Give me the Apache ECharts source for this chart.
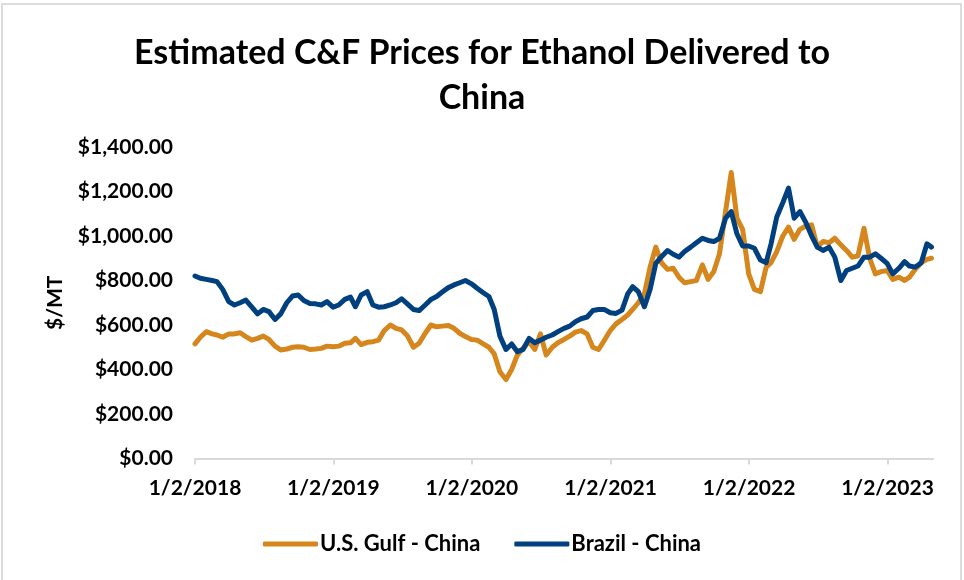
<!DOCTYPE html>
<html>
<head>
<meta charset="utf-8">
<script src="https://cdn.jsdelivr.net/npm/echarts@6/dist/echarts.min.js"></script>
<style>
  html, body { margin: 0; padding: 0; background: #ffffff; }
  #wrap { position: relative; width: 964px; height: 580px; overflow: hidden; }
  #frame { position: absolute; left: 1px; top: 3px; width: 961px; height: 640px; border: 2px solid #dcdcdc; box-sizing: border-box; }
  #chart { position: absolute; left: 0; top: 0; width: 964px; height: 580px; }
</style>
</head>
<body>
<div id="wrap">
  <div id="frame"></div>
  <div id="chart"></div>
</div>
<script>
const titleText = 'Estimated C&F Prices for Ethanol Delivered to\nChina';
const yAxisName = '$/MT';
const seriesNames = ['U.S. Gulf - China', 'Brazil - China'];

const dates = [
  '2018-01-02','2018-01-16','2018-02-01','2018-02-16','2018-03-01','2018-03-16','2018-04-01','2018-04-16','2018-05-01','2018-05-16','2018-06-01','2018-06-16',
  '2018-07-01','2018-07-16','2018-08-01','2018-08-16','2018-09-01','2018-09-16','2018-10-01','2018-10-16','2018-11-01','2018-11-16','2018-12-01','2018-12-16',
  '2019-01-01','2019-01-16','2019-02-01','2019-02-16','2019-03-01','2019-03-16','2019-04-01','2019-04-16','2019-05-01','2019-05-16','2019-06-01','2019-06-16',
  '2019-07-01','2019-07-16','2019-08-01','2019-08-16','2019-09-01','2019-09-16','2019-10-01','2019-10-16','2019-11-01','2019-11-16','2019-12-01','2019-12-16',
  '2020-01-01','2020-01-16','2020-02-01','2020-02-16','2020-03-01','2020-03-16','2020-04-01','2020-04-16','2020-05-01','2020-05-16','2020-06-01','2020-06-16',
  '2020-07-01','2020-07-16','2020-08-01','2020-08-16','2020-09-01','2020-09-16','2020-10-01','2020-10-16','2020-11-01','2020-11-16','2020-12-01','2020-12-16',
  '2021-01-01','2021-01-16','2021-02-01','2021-02-16','2021-03-01','2021-03-16','2021-04-01','2021-04-16','2021-05-01','2021-05-16','2021-06-01','2021-06-16',
  '2021-07-01','2021-07-16','2021-08-01','2021-08-16','2021-09-01','2021-09-16','2021-10-01','2021-10-16','2021-11-01','2021-11-16','2021-12-01','2021-12-16',
  '2022-01-01','2022-01-16','2022-02-01','2022-02-16','2022-03-01','2022-03-16','2022-04-01','2022-04-16','2022-05-01','2022-05-16','2022-06-01','2022-06-16',
  '2022-07-01','2022-07-16','2022-08-01','2022-08-16','2022-09-01','2022-09-16','2022-10-01','2022-10-16','2022-11-01','2022-11-16','2022-12-01','2022-12-16',
  '2023-01-01','2023-01-16','2023-02-01','2023-02-16','2023-03-01','2023-03-16','2023-04-01','2023-04-16','2023-04-28'
];

const usGulf = [
  515, 545, 570, 560, 555, 545, 560, 560, 565, 548, 532, 540,
  550, 535, 505, 488, 492, 500, 502, 500, 490, 492, 495, 505,
  502, 505, 518, 520, 540, 512, 522, 525, 532, 575, 600, 585,
  578, 552, 500, 518, 563, 600, 592, 595, 598, 585, 563, 548,
  535, 532, 515, 500, 470, 390, 355, 400, 465, 495, 525, 490,
  560, 465, 500, 520, 535, 550, 568, 575, 560, 500, 490, 530,
  575, 605, 625, 645, 670, 700, 740, 860, 950, 880, 850, 855,
  815, 790, 795, 800, 870, 805, 840, 920, 1110, 1285, 1080, 1030,
  830, 760, 750, 860, 880, 930, 1000, 1040, 985, 1030, 1045, 1050,
  950, 975, 970, 990, 960, 935, 905, 910, 1035, 900, 830, 840,
  845, 805, 815, 800, 815, 850, 880, 895, 900
];

const brazil = [
  820, 810, 805, 800, 795, 760, 705, 690, 700, 712, 680, 650,
  670, 660, 625, 650, 700, 730, 735, 710, 697, 695, 690, 705,
  680, 690, 715, 725, 682, 735, 750, 690, 680, 682, 690, 700,
  718, 695, 670, 665, 690, 715, 728, 748, 768, 780, 790, 800,
  785, 765, 745, 728, 670, 550, 490, 515, 480, 490, 540, 520,
  532, 545, 555, 570, 585, 595, 615, 628, 636, 665, 670, 670,
  655, 652, 667, 740, 772, 750, 682, 760, 877, 907, 935, 918,
  905, 930, 950, 970, 990, 980, 975, 990, 1080, 1110, 1010, 955,
  955, 945, 892, 880, 965, 1085, 1150, 1215, 1080, 1110, 1060, 1000,
  950, 935, 950, 905, 800, 845, 855, 865, 905, 905, 920, 900,
  877, 830, 855, 885, 865, 860, 880, 965, 950
];

const xTickDates = ['2018-01-02','2019-01-02','2020-01-02','2021-01-02','2022-01-02','2023-01-02'];
const xTickLabels = ['1/2/2018','1/2/2019','1/2/2020','1/2/2021','1/2/2022','1/2/2023'];
const xStart = '2018-01-02';
const xEnd = '2023-05-02';
const yTicks = [0, 200, 400, 600, 800, 1000, 1200, 1400];

const ts = s => Date.parse(s + 'T00:00:00Z');
const xTickTs = xTickDates.map(ts);
const pair = arr => dates.map((d, i) => [ts(d), arr[i]]);

const FONT = 'Lato, "Open Sans", "DejaVu Sans", sans-serif';
const chart = echarts.init(document.getElementById('chart'), null, { renderer: 'canvas' });

chart.setOption({
  animation: false,
  backgroundColor: 'transparent',
  title: {
    text: titleText,
    left: 'center',
    top: 26,
    textStyle: { fontFamily: FONT, fontWeight: 'bold', fontSize: 34, lineHeight: 45, color: '#000000' }
  },
  grid: { left: 195, right: 31, top: 147, bottom: 121.5, containLabel: false },
  legend: {
    data: seriesNames,
    left: 'center',
    top: 528,
    icon: 'roundRect',
    itemWidth: 55,
    itemHeight: 5,
    itemGap: 34,
    textStyle: { fontFamily: FONT, fontWeight: 'bold', fontSize: 22, color: '#000000', padding: [0, 0, 0, -3] }
  },
  xAxis: {
    type: 'value',
    min: ts(xStart),
    max: ts(xEnd),
    axisLine: { show: true, lineStyle: { color: '#d9d9d9', width: 2 } },
    axisTick: { show: true, length: 6, customValues: xTickTs, lineStyle: { color: '#d9d9d9', width: 2 } },
    splitLine: { show: false },
    axisLabel: {
      customValues: xTickTs,
      margin: 19,
      fontFamily: FONT, fontWeight: 'bold', fontSize: 21, color: '#000000',
      formatter: v => {
        let best = 0;
        for (let i = 1; i < xTickTs.length; i++) if (Math.abs(xTickTs[i] - v) < Math.abs(xTickTs[best] - v)) best = i;
        return xTickLabels[best];
      }
    }
  },
  yAxis: {
    type: 'value',
    min: yTicks[0],
    max: yTicks[yTicks.length - 1],
    interval: 200,
    name: yAxisName,
    nameLocation: 'middle',
    nameRotate: 90,
    nameGap: 129,
    nameTextStyle: { fontFamily: FONT, fontWeight: 'bold', fontSize: 21, color: '#000000' },
    axisLine: { show: false },
    axisTick: { show: false },
    splitLine: { show: false },
    axisLabel: {
      margin: 22,
      fontFamily: FONT, fontWeight: 'bold', fontSize: 21, color: '#000000',
      formatter: v => '$' + v.toLocaleString('en-US', { minimumFractionDigits: 2, maximumFractionDigits: 2 })
    }
  },
  series: [
    {
      name: seriesNames[0], type: 'line', data: pair(usGulf), showSymbol: false, symbol: 'none',
      lineStyle: { color: '#D5861C', width: 5, join: 'round', cap: 'round' }, itemStyle: { color: '#D5861C' }
    },
    {
      name: seriesNames[1], type: 'line', data: pair(brazil), showSymbol: false, symbol: 'none',
      lineStyle: { color: '#00407F', width: 5, join: 'round', cap: 'round' }, itemStyle: { color: '#00407F' }
    }
  ]
});
</script>
</body>
</html>
